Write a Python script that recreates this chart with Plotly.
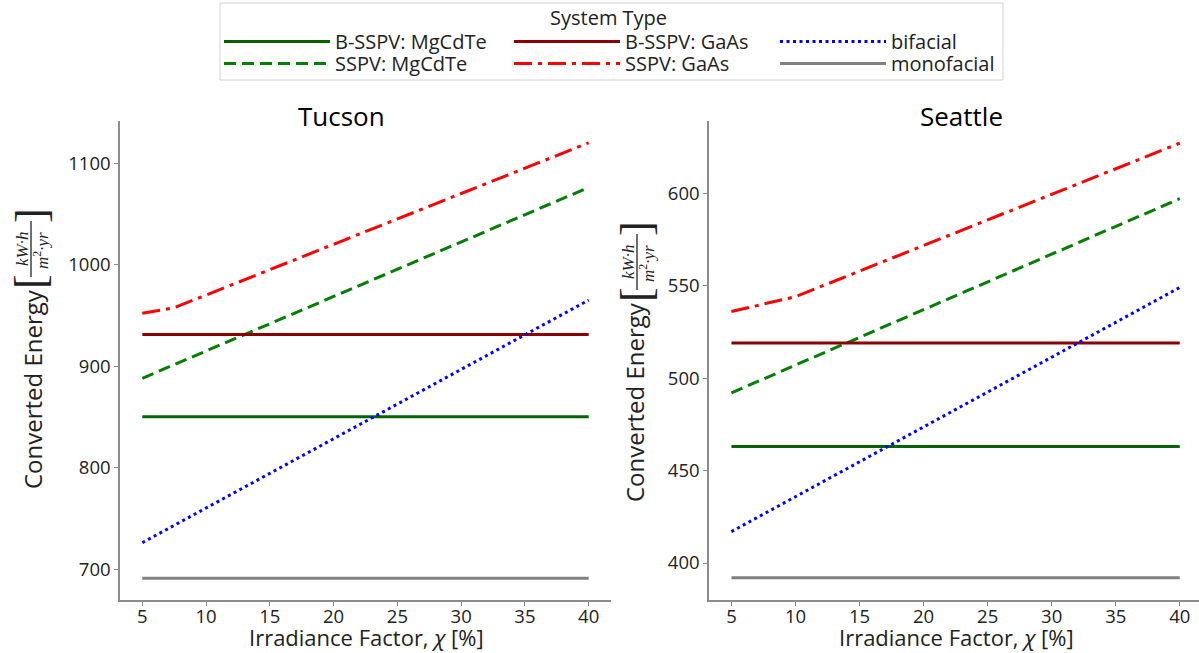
import plotly.graph_objects as go

# ---------------- data ----------------
x_full = [5, 40]

tucson_bsspv_mgcdte = [850, 850]
tucson_bsspv_gaas = [931, 931]
tucson_mono = [691, 691]
tucson_sspv_mgcdte = [888, 1076]
tucson_sspv_gaas_x = [5, 7.5, 40]
tucson_sspv_gaas = [952, 957.5, 1120]
tucson_bifacial = [726, 965]

seattle_bsspv_mgcdte = [463, 463]
seattle_bsspv_gaas = [519, 519]
seattle_mono = [392, 392]
seattle_sspv_mgcdte = [492, 597]
seattle_sspv_gaas_x = [5, 10, 40]
seattle_sspv_gaas = [536, 544, 627]
seattle_bifacial = [417, 549]

x_ticks = [5, 10, 15, 20, 25, 30, 35, 40]
tucson_yticks = [700, 800, 900, 1000, 1100]
seattle_yticks = [400, 450, 500, 550, 600]

W, H = 1199, 653


def px(x):
    return x / W


def py(y):
    return 1 - y / H


FONT = "Open Sans, Arial, sans-serif"
LW = 3

styles = {
    "B-SSPV: MgCdTe": dict(color="#006400", dash="solid", legend="legend"),
    "SSPV: MgCdTe": dict(color="#008000", dash="12px,6px", legend="legend2"),
    "B-SSPV: GaAs": dict(color="#8B0000", dash="solid", legend="legend3"),
    "SSPV: GaAs": dict(color="#FF0000", dash="18px,6px,4px,6px", legend="legend4"),
    "bifacial": dict(color="#0000FF", dash="3px,3.5px", legend="legend5"),
    "monofacial": dict(color="#808080", dash="solid", legend="legend6"),
}

series = [
    ("B-SSPV: MgCdTe", x_full, tucson_bsspv_mgcdte, x_full, seattle_bsspv_mgcdte),
    ("SSPV: MgCdTe", x_full, tucson_sspv_mgcdte, x_full, seattle_sspv_mgcdte),
    ("B-SSPV: GaAs", x_full, tucson_bsspv_gaas, x_full, seattle_bsspv_gaas),
    ("SSPV: GaAs", tucson_sspv_gaas_x, tucson_sspv_gaas, seattle_sspv_gaas_x, seattle_sspv_gaas),
    ("bifacial", x_full, tucson_bifacial, x_full, seattle_bifacial),
    ("monofacial", x_full, tucson_mono, x_full, seattle_mono),
]

fig = go.Figure()
for name, xt, yt, xs, ys in series:
    st = styles[name]
    line = dict(color=st["color"], dash=st["dash"], width=LW)
    fig.add_trace(go.Scatter(x=xt, y=yt, mode="lines", name=name, line=line,
                             legendgroup=name, legend=st["legend"], showlegend=True,
                             xaxis="x", yaxis="y"))
    fig.add_trace(go.Scatter(x=xs, y=ys, mode="lines", name=name, line=line,
                             legendgroup=name, legend=st["legend"], showlegend=False,
                             xaxis="x2", yaxis="y2"))

axis_common = dict(showline=True, linecolor="#8c8c8c", linewidth=1.5, ticks="outside",
                   ticklen=4, tickwidth=1.2, tickcolor="#8c8c8c", showgrid=False,
                   zeroline=False, mirror=False,
                   tickfont=dict(family=FONT, size=18.5, color="#222"))

ydom = [py(600), py(121)]

fig.update_layout(
    width=W, height=H,
    margin=dict(l=0, r=0, t=0, b=0),
    paper_bgcolor="white", plot_bgcolor="white",
    xaxis=dict(domain=[px(120), px(611)], range=[3.25, 41.75], tickvals=x_ticks,
               anchor="y", ticklabelstandoff=-5, **axis_common),
    yaxis=dict(domain=ydom, range=[669.5, 1141.5], tickvals=tucson_yticks,
               anchor="x", **axis_common),
    xaxis2=dict(domain=[px(709), 1.0], range=[3.25, 41.5], tickvals=x_ticks,
                anchor="y2", ticklabelstandoff=-5, **axis_common),
    yaxis2=dict(domain=ydom, range=[380, 639], tickvals=seattle_yticks,
                anchor="x2", **axis_common),
    showlegend=True,
)

leg_common = dict(orientation="v", bgcolor="rgba(0,0,0,0)", borderwidth=0,
                  font=dict(family=FONT, size=20, color="#222"), itemwidth=106,
                  xanchor="left", yanchor="top")
col_x = [219, 509, 775]
row_y = [22, 44]
leg_pos = {
    "legend": (col_x[0], row_y[0]), "legend2": (col_x[0], row_y[1]),
    "legend3": (col_x[1], row_y[0]), "legend4": (col_x[1], row_y[1]),
    "legend5": (col_x[2], row_y[0]), "legend6": (col_x[2], row_y[1]),
}
fig.update_layout(**{k: dict(x=px(v[0]), y=py(v[1]), **leg_common) for k, v in leg_pos.items()})

# legend frame and title
fig.add_shape(type="rect", xref="paper", yref="paper", x0=px(220), x1=px(1003),
              y0=py(80), y1=py(3), line=dict(color="#d0d0d0", width=1), fillcolor="rgba(0,0,0,0)")
annotations = [
    dict(text="System Type", x=px(608), y=py(17), font=dict(family=FONT, size=20, color="#222")),
    dict(text="Tucson", x=px(341), y=py(116), font=dict(family=FONT, size=26, color="black")),
    dict(text="Seattle", x=px(961), y=py(116), font=dict(family=FONT, size=26, color="black")),
]

# x-axis titles
for cx in (366, 956):
    annotations.append(dict(text="Irradiance Factor, <i>χ</i> [%]", x=px(cx), y=py(637),
                            font=dict(family=FONT, size=22, color="#222")))

# y-axis labels with fraction units
for (cx_text, cy_text, cx_frac, cy_frac) in [(32, 389, 31, 249), (634, 402, 637, 262)]:
    annotations.append(dict(text="Converted Energy", x=px(cx_text), y=py(cy_text), textangle=-90,
                            font=dict(family=FONT, size=24, color="#222")))
    annotations.append(dict(text="<i>kW·h</i>", x=px(cx_frac - 9), y=py(cy_frac), textangle=-90,
                            font=dict(family="Liberation Serif, serif", size=17, color="#222")))
    annotations.append(dict(text="<i>m</i><sup>2</sup><i>·yr</i>", x=px(cx_frac + 10), y=py(cy_frac + 2), textangle=-90,
                            font=dict(family="Liberation Serif, serif", size=17, color="#222")))
    annotations.append(dict(text="[", x=px(cx_frac), y=py(cy_frac + 33), textangle=-90,
                            font=dict(family="Liberation Serif, serif", size=44, color="#222")))
    annotations.append(dict(text="]", x=px(cx_frac), y=py(cy_frac - 33), textangle=-90,
                            font=dict(family="Liberation Serif, serif", size=44, color="#222")))
    fig.add_shape(type="line", xref="paper", yref="paper", x0=px(cx_frac), x1=px(cx_frac),
                  y0=py(cy_frac + 28), y1=py(cy_frac - 28), line=dict(color="#222", width=1.3))

for a in annotations:
    a.setdefault("xref", "paper")
    a.setdefault("yref", "paper")
    a.setdefault("showarrow", False)
    a.setdefault("xanchor", "center")
    a.setdefault("yanchor", "middle")
fig.update_layout(annotations=annotations)

fig.write_html("out.html")
